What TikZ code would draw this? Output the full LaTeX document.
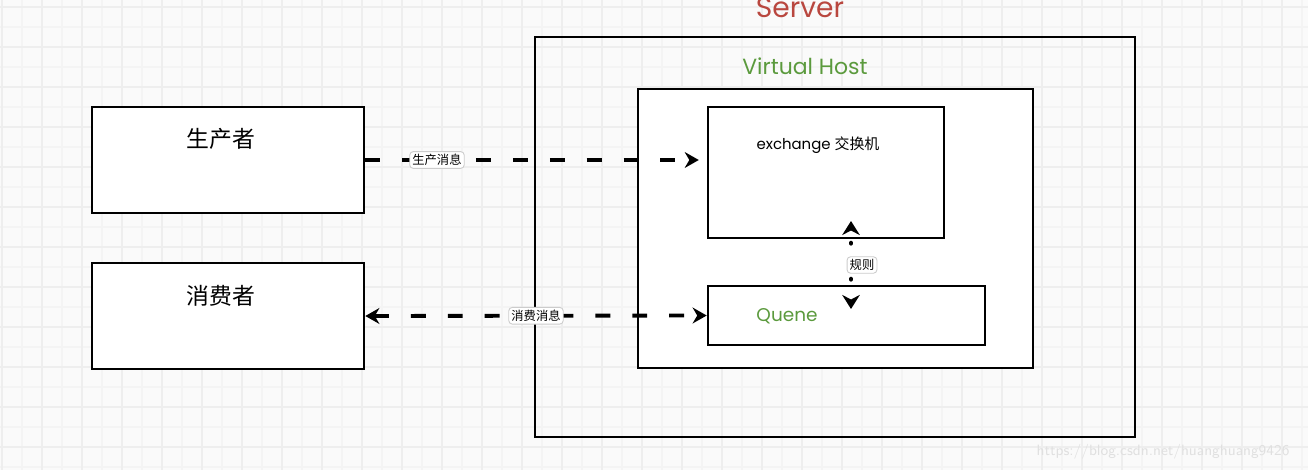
\documentclass[tikz,border=0pt]{standalone}
\usepackage{fontspec}
\setmainfont{Poppins}
\newfontfamily\cjk{Noto Sans CJK SC}
\usetikzlibrary{arrows.meta, positioning}
\usepackage{xcolor}

\definecolor{servred}{HTML}{B9473F}
\definecolor{hostgreen}{HTML}{5B9A3D}
\definecolor{paper}{HTML}{FAFAFA}
\definecolor{gridminor}{HTML}{F4F4F4}
\definecolor{gridmajor}{HTML}{EEEEEE}

\begin{document}
\begin{tikzpicture}[x=0.02cm, y=-0.02cm]

% Define block styles
\tikzstyle{box} = [rectangle, draw=black, line width=1.5pt, fill=white, inner sep=0pt]
\tikzstyle{frame} = [rectangle, draw=black, line width=1.5pt, inner sep=0pt]
\tikzstyle{title} = [inner sep=0pt, font=\cjk\fontsize{13}{15}\selectfont]
\tikzstyle{tag} = [rectangle, rounded corners=2pt, draw=black!20, line width=0.5pt, fill=white, inner sep=1.5pt, font=\cjk\fontsize{7}{8}\selectfont]
\tikzstyle{msgarrow} = [line width=2.2pt, dash pattern=on 8.5pt off 12.5pt, -{Stealth[length=8pt, width=9pt]}]
\tikzstyle{rulearrow} = [line width=2.5pt, line cap=round, dash pattern=on 0.3pt off 20.2pt, dash phase=13pt, {Stealth[length=8pt, width=10pt]}-{Stealth[length=8pt, width=10pt]}]

% Paper and grid
\useasboundingbox (0,0) rectangle (1308,470);
\fill [paper] (0,0) rectangle (1308,470);
\foreach \x in {22,62,...,1302} \draw [gridminor, line width=0.6pt] (\x,0) -- (\x,470);
\foreach \y in {27,67,...,467} \draw [gridminor, line width=0.6pt] (0,\y) -- (1308,\y);
\foreach \x in {2,42,...,1302} \draw [gridmajor, line width=0.8pt] (\x,0) -- (\x,470);
\foreach \y in {7,47,...,467} \draw [gridmajor, line width=0.8pt] (0,\y) -- (1308,\y);

% Nodes
\node (producer) [box, minimum width=5.44cm, minimum height=2.12cm] at (228,160) {};
\node (consumer) [box, minimum width=5.44cm, minimum height=2.12cm] at (228,316) {};
\node (prodtitle) [title] at (221,139) {生产者};
\node (constitle) [title] at (221,296) {消费者};

\node (server) [frame, minimum width=12cm, minimum height=8cm] at (835,237) {};
\node (servlabel) [anchor=base, text=servred, font=\fontsize{16}{18}\selectfont] at (800,17) {Server};

\node (vhost) [box, minimum width=7.9cm, minimum height=5.58cm] at (835.5,228.5) {};
\node (hostlabel) [anchor=base, text=hostgreen, font=\fontsize{12.5}{15}\selectfont] at (805,74) {Virtual Host};

\node (exchange) [box, minimum width=4.72cm, minimum height=2.62cm] at (826,172.5) {};
\node (exlabel) [anchor=base, font=\fontsize{8.5}{10}\selectfont] at (818,149) {exchange {\cjk 交换机}};

\node (queue) [box, minimum width=5.54cm, minimum height=1.18cm] at (846.5,315.5) {};
\node (qlabel) [anchor=base, text=hostgreen, font=\fontsize{10.5}{12}\selectfont] at (787,321) {Quene};

\coordinate (ruletop) at (851,221);
\coordinate (rulebot) at (851,309);

\node (mark) [anchor=base, text=black!12, font=\fontsize{8.5}{10}\selectfont\sffamily] at (1163,455) {https://blog.csdn.net/huanghuang9426};

% Arrows
\draw [msgarrow] (producer.east) -- node [tag, pos=0.21, solid] {生产消息} (producer.east -| exchange.west) [shorten >=4.5pt];
\draw [msgarrow, {Stealth[length=8pt, width=9pt]}-{Stealth[length=8pt, width=9pt]}] (consumer.east) -- node [tag, solid] {消费消息} (queue.west);
\draw [rulearrow] (ruletop) -- node [tag, solid, xshift=0.22cm] {规则} (rulebot);

\end{tikzpicture}
\end{document}
